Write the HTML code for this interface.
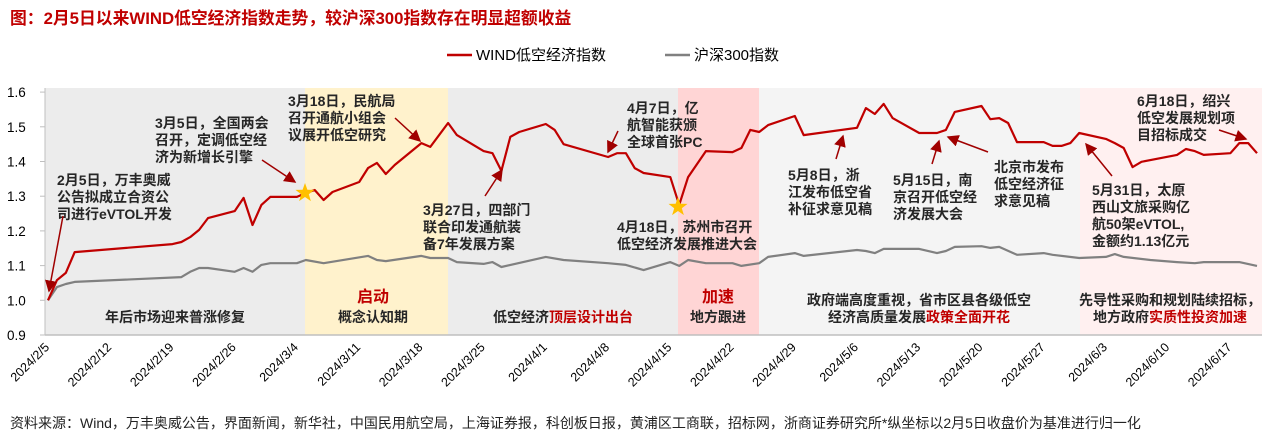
<!DOCTYPE html>
<html><head><meta charset="utf-8">
<style>
html,body{margin:0;padding:0;background:#fff;}
svg{display:block;font-family:"Liberation Sans","Noto Sans CJK SC",sans-serif;}
.ann{font-size:14px;font-weight:bold;fill:#262626;}
.reg{font-size:14px;font-weight:bold;fill:#262626;}
.red{fill:#c00000;}
.tick{font-size:13.5px;fill:#000;}
.xl{font-size:12.5px;fill:#000;}
</style></head>
<body>
<svg id="chart" width="1271" height="441" viewBox="0 0 1271 441">
<defs>
<marker id="ah" markerWidth="8" markerHeight="8" refX="7" refY="4" orient="auto"><path d="M0,0 L8,4 L0,8 z" fill="#a00000"/></marker>
</defs>
<text x="10" y="24" font-size="16.8" font-weight="bold" fill="#c00000">图：2月5日以来WIND低空经济指数走势，较沪深300指数存在明显超额收益</text>
<g id="legend">
<g><line x1="447" y1="55" x2="472" y2="55" stroke="#c00000" stroke-width="2.5"/><text x="476" y="60" font-size="15">WIND低空经济指数</text></g>
<g><line x1="665" y1="55" x2="690" y2="55" stroke="#808080" stroke-width="2.5"/><text x="694" y="60" font-size="15">沪深300指数</text></g>
</g>
<g id="bands"></g>
<g id="axes"></g>
<g id="series"></g>
<g id="notes"></g>
<text x="10" y="428" font-size="14" fill="#222">资料来源：Wind，万丰奥威公告，界面新闻，新华社，中国民用航空局，上海证券报，科创板日报，黄浦区工商联，招标网，浙商证券研究所*纵坐标以2月5日收盘价为基准进行归一化</text>
</svg>
<script>
// ---- data ----
const windDays=[0,1,2,3,14,15,16,17,18,21,22,23,24,25,28,29,30,31,32,35,36,37,38,39,42,43,45,46,49,50,51,52,53,56,57,58,63,64,65,66,67,70,71,72,74,77,78,79,80,81,84,85,91,92,93,94,95,98,100,101,102,105,106,107,108,109,112,113,114,115,116,119,120,121,122,123,127,128,129,130,133,134,135,136];
const windVals=[1.000,1.058,1.079,1.139,1.162,1.168,1.182,1.203,1.237,1.257,1.295,1.217,1.275,1.298,1.298,1.309,1.318,1.289,1.312,1.341,1.381,1.396,1.364,1.390,1.453,1.442,1.511,1.476,1.430,1.424,1.373,1.471,1.485,1.508,1.491,1.450,1.413,1.424,1.424,1.381,1.367,1.355,1.275,1.355,1.430,1.427,1.439,1.491,1.485,1.505,1.531,1.476,1.497,1.554,1.537,1.566,1.525,1.482,1.482,1.491,1.543,1.560,1.522,1.525,1.511,1.456,1.456,1.445,1.445,1.453,1.482,1.465,1.453,1.439,1.384,1.399,1.419,1.436,1.430,1.419,1.424,1.453,1.453,1.424];
const hsDays=[0,1,2,3,15,16,17,18,21,22,23,24,25,28,29,31,36,37,38,42,43,45,46,49,50,51,56,58,63,65,67,70,71,72,74,77,78,80,81,84,85,91,92,93,94,98,100,101,102,105,106,107,109,112,113,116,119,120,121,124,127,129,130,133,134,136];
const hsVals=[1.000,1.038,1.047,1.053,1.067,1.082,1.093,1.093,1.082,1.093,1.082,1.102,1.107,1.107,1.116,1.107,1.128,1.116,1.113,1.128,1.122,1.122,1.110,1.105,1.110,1.096,1.125,1.116,1.107,1.102,1.087,1.110,1.099,1.116,1.107,1.107,1.099,1.107,1.125,1.136,1.128,1.145,1.142,1.136,1.148,1.148,1.136,1.142,1.154,1.156,1.151,1.154,1.131,1.136,1.131,1.122,1.125,1.133,1.125,1.116,1.110,1.107,1.110,1.110,1.110,1.099];
const yTicks=[0.9,1.0,1.1,1.2,1.3,1.4,1.5,1.6];
const xLabels=["2024/2/5","2024/2/12","2024/2/19","2024/2/26","2024/3/4","2024/3/11","2024/3/18","2024/3/25","2024/4/1","2024/4/8","2024/4/15","2024/4/22","2024/4/29","2024/5/6","2024/5/13","2024/5/20","2024/5/27","2024/6/3","2024/6/10","2024/6/17"];
// ---- scales ----
const X=d=>48+d*8.89;
const Y=v=>300.3-(v-1)*347;
const NS="http://www.w3.org/2000/svg";
function mk(tag,attrs,parent){const e=document.createElementNS(NS,tag);for(const k in attrs)e.setAttribute(k,attrs[k]);parent.appendChild(e);return e;}
const bands=document.getElementById('bands');
const B=[[45,305,'#ececec','band-recovery'],[305,448,'#fff2cc','band-launch'],[448,678,'#ececec','band-top-design'],[678,759,'#ffd5d5','band-acceleration'],[759,1080,'#f4f4f4','band-policy-bloom'],[1080,1262,'#fff0f0','band-investment']];
B.forEach(b=>{const r=mk('rect',{x:b[0],y:88,width:b[1]-b[0],height:247,fill:b[2]},bands);

});
const ax=document.getElementById('axes');
const yl=mk('line',{x1:45,y1:88,x2:45,y2:335,stroke:'#bfbfbf','stroke-width':1},ax);


const xl=mk('line',{x1:45,y1:335,x2:1262,y2:335,stroke:'#bfbfbf','stroke-width':1.5},ax);


yTicks.forEach(v=>{mk('line',{x1:40,y1:Y(v),x2:45,y2:Y(v),stroke:'#bfbfbf'},ax);
const t=mk('text',{x:7,y:Y(v)+5,class:'tick'},ax);t.textContent=v.toFixed(1);

});
xLabels.forEach((s,i)=>{const x=X(i*7)+2;const t=mk('text',{x:x,y:348,class:'xl','text-anchor':'end',transform:`rotate(-45 ${x} 348)`},ax);t.textContent=s;

});
const ser=document.getElementById('series');
function line(days,vals,color,name){const p=days.map((d,i)=>X(d).toFixed(1)+','+Y(vals[i]).toFixed(1)).join(' ');
const pl=mk('polyline',{points:p,fill:'none',stroke:color,'stroke-width':2.2,'stroke-linejoin':'round'},ser);

}
line(hsDays,hsVals,'#808080','hs300-line');
line(windDays,windVals,'#c00000','wind-low-altitude-line');
const notes=document.getElementById('notes');
function star(cx,cy,name){let p=[];for(let i=0;i<10;i++){const r=i%2?4:10;const a=-Math.PI/2+i*Math.PI/5;p.push((cx+r*Math.cos(a)).toFixed(1)+','+(cy+r*Math.sin(a)).toFixed(1));}
const s=mk('polygon',{points:p.join(' '),fill:'#ffc000'},notes);

}
star(305,193,'star-mar5');
star(678,207,'star-apr18');
function txt(x,y,lines,cls,anchor,name){const t=mk('text',{x:x,y:y,class:cls,'text-anchor':anchor||'start'},notes);
lines.forEach((l,i)=>{const ts=mk('tspan',{x:x,dy:i?17:0},t);
if(Array.isArray(l)){const a=mk('tspan',{},ts);a.textContent=l[0];const b=mk('tspan',{class:'red'},ts);b.textContent=l[1];}else ts.textContent=l;});

}
function arr(x1,y1,x2,y2){mk('line',{x1:x1,y1:y1,x2:x2,y2:y2,stroke:'#a00000','stroke-width':1.5,'marker-end':'url(#ah)'},notes);}
txt(57,185,['2月5日，万丰奥威','公告拟成立合资公','司进行eVTOL开发'],'ann','start','note-feb5');arr(63,216,49,291);
txt(155,128,['3月5日，全国两会','召开，定调低空经','济为新增长引擎'],'ann','start','note-mar5');arr(262,160,295,182);
txt(288,106,['3月18日，民航局','召开通航小组会','议展开低空研究'],'ann','start','note-mar18');arr(395,118,420,141);
txt(423,215,['3月27日，四部门','联合印发通航装','备7年发展方案'],'ann','start','note-mar27');arr(485,196,502,170);
txt(627,113,['4月7日，亿','航智能获颁','全球首张PC'],'ann','start','note-apr7');arr(618,131,608,152);
txt(617,232,['4月18日，苏州市召开','低空经济发展推进大会'],'ann','start','note-apr18');
txt(788,180,['5月8日，浙','江发布低空省','补征求意见稿'],'ann','start','note-may8');arr(836,159,843,136);
txt(893,185,['5月15日，南','京召开低空经','济发展大会'],'ann','start','note-may15');arr(932,164,939,141);
txt(994,172,['北京市发布','低空经济征','求意见稿'],'ann','start','note-beijing');arr(988,152,948,137);
txt(1092,195,['5月31日，太原','西山文旅采购亿','航50架eVTOL,','金额约1.13亿元'],'ann','start','note-may31');arr(1112,176,1086,144);
txt(1137,106,['6月18日，绍兴','低空发展规划项','目招标成交'],'ann','start','note-jun18');arr(1219,130,1246,139);
txt(175,322,['年后市场迎来普涨修复'],'reg','middle','region-label-recovery');
const q=mk('text',{x:373,y:302,'text-anchor':'middle','font-size':16,'font-weight':'bold',fill:'#c00000'},notes);q.textContent='启动';


txt(373,322,['概念认知期'],'reg','middle','region-label-launch');
txt(563,322,[['低空经济','顶层设计出台']],'reg','middle','region-label-top-design');
const w=mk('text',{x:718,y:302,'text-anchor':'middle','font-size':16,'font-weight':'bold',fill:'#c00000'},notes);w.textContent='加速';


txt(718,322,['地方跟进'],'reg','middle','region-label-acceleration');
txt(919,305,['政府端高度重视，省市区县各级低空',['经济高质量发展','政策全面开花']],'reg','middle','region-label-policy');
txt(1170,305,['先导性采购和规划陆续招标，',['地方政府','实质性投资加速']],'reg','middle','region-label-investment');
</script>
</body></html>
